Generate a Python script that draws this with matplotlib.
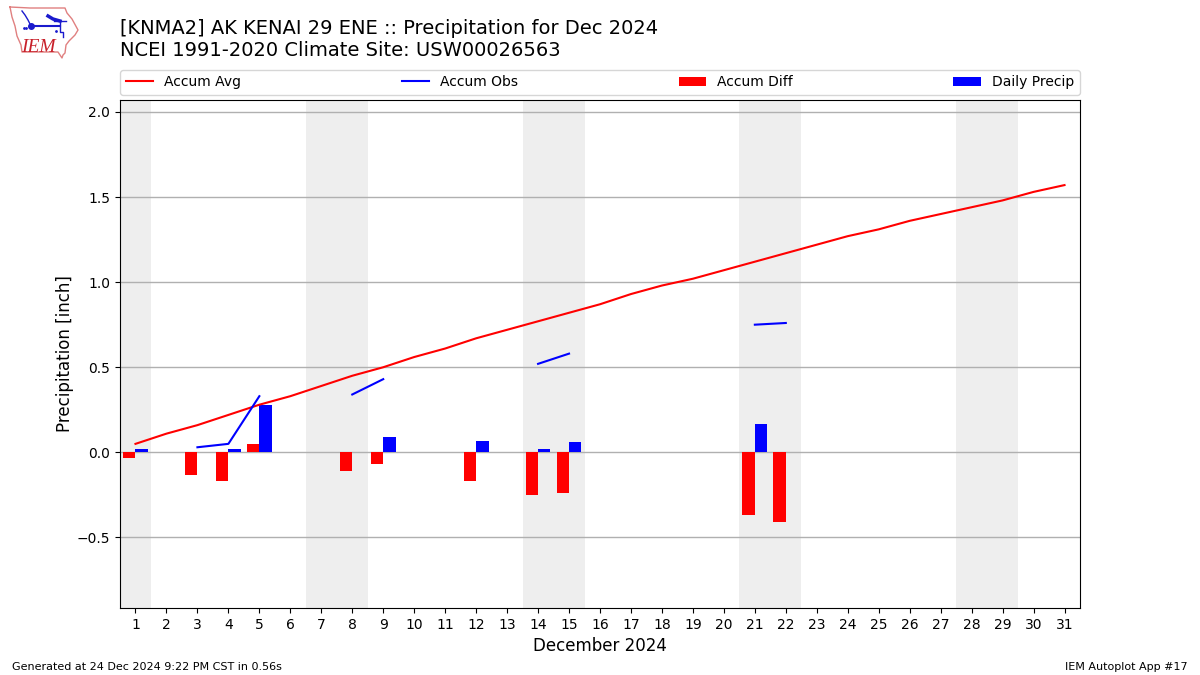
import numpy as np
import matplotlib.pyplot as plt

days = np.arange(1, 32)
avg = [0.05, 0.11, 0.16, 0.22, 0.28, 0.33, 0.39, 0.45, 0.50, 0.56, 0.61, 0.67, 0.72, 0.77, 0.82, 0.87,
       0.93, 0.98, 1.02, 1.07, 1.12, 1.17, 1.22, 1.27, 1.31, 1.36, 1.40, 1.44, 1.48, 1.53, 1.57]
nan = np.nan
obs = [nan, nan, 0.03, 0.05, 0.33, nan, nan, 0.34, 0.43, nan, nan, nan, nan, 0.52, 0.58, nan,
       nan, nan, nan, nan, 0.75, 0.76, nan, nan, nan, nan, nan, nan, nan, nan, nan]
diff_days = [1, 3, 4, 5, 8, 9, 12, 14, 15, 21, 22]
diff = [-0.035, -0.13, -0.17, 0.05, -0.11, -0.07, -0.17, -0.25, -0.24, -0.37, -0.41]
daily = [0.02, 0.005, 0.02, 0.28, 0.005, 0.09, 0.065, 0.02, 0.06, 0.165, 0.005]
weekends = [(0.5, 1.5), (6.5, 8.5), (13.5, 15.5), (20.5, 22.5), (27.5, 29.5)]

fig = plt.figure(figsize=(12, 6.75), dpi=100)
ax = fig.add_axes([0.1, 0.0993, 0.8, 0.7526])

for a, b in weekends:
    ax.axvspan(a, b, color="#eeeeee", lw=0, zorder=0)

ax.plot(days, avg, color="r", lw=1.5, label="Accum Avg", zorder=3)
ax.plot(days, obs, color="b", lw=1.5, label="Accum Obs", zorder=3)
ax.bar(diff_days, diff, width=0.4, align="edge", color="r", label="Accum Diff", zorder=2)
ax.bar(diff_days, daily, width=0.4, align="edge", color="b", label="Daily Precip", zorder=2)
# red bars sit to the left of the day
for p in ax.containers[0]:
    p.set_x(p.get_x() - 0.4)

ax.set_xlim(0.5, 31.5)
ax.set_ylim(-0.914, 2.07)
ax.set_xticks(days)
ax.set_yticks([-0.5, 0, 0.5, 1.0, 1.5, 2.0])
ax.grid(True, axis="y", color="#b0b0b0", lw=1)
ax.set_axisbelow(True)
ax.set_xlabel("December 2024", fontsize=12, labelpad=4)
ax.set_ylabel("Precipitation [inch]", fontsize=12, labelpad=2)
ax.tick_params(labelsize=10)
ax.legend(loc="lower left", bbox_to_anchor=(0, 1.01, 1, 0.05), ncol=4, mode="expand",
          borderaxespad=0, fontsize=10)

fig.text(0.1, 0.9115, "[KNMA2] AK KENAI 29 ENE :: Precipitation for Dec 2024\nNCEI 1991-2020 Climate Site: USW00026563",
         fontsize=14, va="bottom", ha="left", linespacing=1.15)
fig.text(0.01, 0.0075, "Generated at 24 Dec 2024 9:22 PM CST in 0.56s", fontsize=8)
fig.text(0.99, 0.0075, "IEM Autoplot App #17", fontsize=8, ha="right")

# logo, drawn in pixel coords of the top left corner
lg = fig.add_axes([0, 1 - 70 / 675, 130 / 1200, 70 / 675])
lg.set_xlim(0, 130)
lg.set_ylim(70, 0)
lg.axis("off")
lg.plot([10, 30, 65, 67, 72, 78, 75, 69, 66, 65, 63, 62, 58, 22, 21, 17, 15, 12, 10],
        [7, 8, 8, 13, 19, 30, 35, 41, 45, 53, 55, 58, 52, 52, 45, 36, 26, 17, 7],
        color="#e08080", lw=1)
lg.plot([31, 60], [26, 26], color="#1a1acd", lw=1.5)
lg.plot([22, 25, 28, 31], [11, 15, 20, 26], color="#1a1acd", lw=1)
lg.plot([31], [26], "o", color="#1a1acd", ms=4)
lg.plot([48, 53, 60], [16, 19, 21], color="#1a1acd", lw=2.5)
lg.plot([60, 60, 63, 63], [21, 32, 32, 37], color="#1a1acd", lw=1)
lg.plot([54, 60, 66], [21, 21, 21], color="#1a1acd", lw=1)
lg.plot([24, 26, 56], [28, 28, 31], ".", color="#1a1acd", ms=2)
lg.text(21, 52, "IEM", color="#c8202a", fontsize=14, family="Liberation Serif", style="italic")

fig.savefig("out.png", dpi=100)
